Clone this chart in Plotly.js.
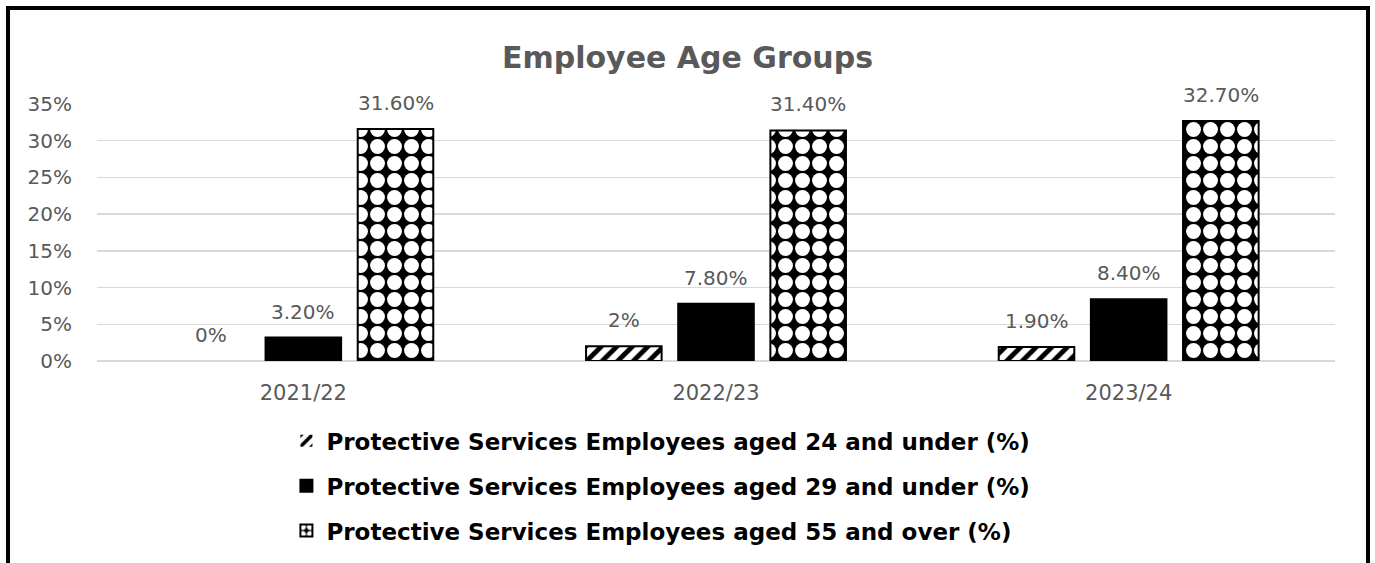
<!DOCTYPE html>
<html>
<head>
<meta charset="utf-8">
<script src="https://cdn.plot.ly/plotly-3.0.1.min.js"></script>
<style>
  html, body { margin: 0; padding: 0; background: #ffffff; }
  #chart { width: 1375px; height: 563px; position: absolute; left: 0; top: 0; }
  #frame { position: absolute; left: 6px; top: 6px; width: 1356px; height: 620px;
           border: 4px solid #000; border-bottom: none; pointer-events: none; }
</style>
</head>
<body>
<div id="chart"></div>
<div id="frame"></div>
<script>
const categories = ['2021/22', '2022/23', '2023/24'];
const seriesNames = [
  'Protective Services Employees aged 24 and under (%)',
  'Protective Services Employees aged 29 and under (%)',
  'Protective Services Employees aged 55 and over (%)'
];
const aged24Under = [0, 2, 1.9];
const aged29Under = [3.2, 7.8, 8.4];
const aged55Over = [31.6, 31.4, 32.7];
const labels24 = ['0%', '2%', '1.90%'];
const labels29 = ['3.20%', '7.80%', '8.40%'];
const labels55 = ['31.60%', '31.40%', '32.70%'];
const yTicks = [0, 5, 10, 15, 20, 25, 30, 35];

const seriesValues = [aged24Under, aged29Under, aged55Over];
const seriesLabels = [labels24, labels29, labels55];
const patterns = [
  {shape: '/', fgcolor: '#000', bgcolor: '#fff', size: 11, solidity: 0.45, fillmode: 'replace'},
  {shape: '', fgcolor: '#000', bgcolor: '#000'},
  {shape: '.', fgcolor: '#fff', bgcolor: '#000', size: 17, solidity: 0.6, fillmode: 'replace'}
];
const bargap = 0.33;

const traces = seriesValues.map((vals, i) => ({
  type: 'bar',
  name: seriesNames[i],
  x: categories,
  y: vals,
  legendgroup: 'g' + i,
  marker: {
    color: i === 1 ? '#000' : '#fff',
    pattern: patterns[i],
    line: {color: '#000', width: vals.map(v => (v === 0 ? 0 : 2))}
  },
  hoverinfo: 'none'
}));

const annotations = [];
seriesValues.forEach((vals, s) => {
  vals.forEach((v, c) => {
    annotations.push({
      xref: 'x', yref: 'y',
      x: c + (s - 1) * (1 - bargap) / seriesValues.length,
      y: v,
      text: seriesLabels[s][c],
      showarrow: false,
      yanchor: 'bottom',
      yshift: 12,
      font: {family: 'DejaVu Sans', size: 20, color: '#595959'}
    });
  });
});

const layout = {
  width: 1375, height: 563,
  margin: {l: 97, r: 40, t: 104, b: 201},
  paper_bgcolor: '#fff', plot_bgcolor: '#fff',
  barmode: 'group',
  bargap: bargap,
  bargroupgap: 0.18,
  title: {
    text: '<b>Employee Age Groups</b>',
    font: {family: 'DejaVu Sans', size: 30, color: '#595959'},
    x: 0.5, xref: 'container', xanchor: 'center',
    y: 0.897, yref: 'container', yanchor: 'middle'
  },
  showlegend: true,
  legend: {
    orientation: 'v',
    x: 0.153, xanchor: 'left',
    y: -0.222, yanchor: 'top',
    traceorder: 'grouped',
    tracegroupgap: 12,
    font: {family: 'DejaVu Sans', size: 23, color: '#000', weight: 'bold'},
    itemclick: false
  },
  xaxis: {
    type: 'category',
    showgrid: false,
    showline: false,
    ticks: '',
    tickfont: {family: 'DejaVu Sans', size: 21, color: '#595959'},
    ticklabelstandoff: 17
  },
  yaxis: {
    range: [0, 35],
    tickvals: yTicks,
    ticktext: yTicks.map(v => v + '%'),
    showgrid: true,
    gridcolor: '#d9d9d9',
    gridwidth: 1.5,
    zeroline: true,
    zerolinecolor: '#d9d9d9',
    zerolinewidth: 1.5,
    showline: false,
    ticks: '',
    tickfont: {family: 'DejaVu Sans', size: 20, color: '#595959'},
    ticklabelstandoff: 24
  },
  annotations: annotations
};

Plotly.newPlot('chart', traces, layout, {displayModeBar: false, staticPlot: true});
</script>
</body>
</html>
